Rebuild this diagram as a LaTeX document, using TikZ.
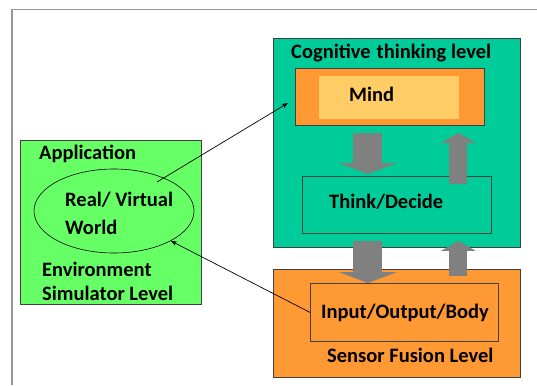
\documentclass[tikz,border=0pt]{standalone}
\usepackage{fontspec}
\setmainfont{Carlito}
\usetikzlibrary{arrows.meta,positioning,shapes.geometric,calc}
\definecolor{cogteal}{RGB}{0,204,153}
\definecolor{boxorange}{RGB}{255,153,51}
\definecolor{mindlight}{RGB}{255,204,102}
\definecolor{appgreen}{RGB}{102,255,102}
\definecolor{framegray}{RGB}{150,150,150}
\definecolor{arrowgray}{RGB}{128,128,128}

\begin{document}
\begin{tikzpicture}[x=1pt,y=-1pt,>=Stealth,
    levelbox/.style={draw=black!75,line width=0.8pt,anchor=north west,inner sep=0pt},
    lbl/.style={anchor=west,inner sep=0pt,font=\bfseries\fontsize{20.5}{24}\selectfont},
    fatdown/.style={arrowgray,line width=29pt,-{Triangle[length=11pt,width=58pt]}},
    fatup/.style={arrowgray,line width=18pt,-{Triangle[length=10pt,width=34pt]}}]
  \useasboundingbox (0,0) rectangle (537,385);
  \draw[framegray,line width=1.5pt] (12,385) -- (12,9.5) -- (537,9.5);

  % levels
  \node[levelbox,fill=cogteal,minimum width=247pt,minimum height=209pt]
        (cog) at (273,38) {};
  \node[levelbox,fill=boxorange,minimum width=247pt,minimum height=108pt]
        (sensor) at (273,269) {};
  \node[levelbox,fill=appgreen,minimum width=181pt,minimum height=164pt]
        (app) at (19.5,140) {};

  % inner boxes
  \node[levelbox,fill=boxorange,minimum width=189pt,minimum height=57pt]
        (mind) at (295,68) {};
  \node[anchor=north west,inner sep=0pt,fill=mindlight,
        minimum width=140pt,minimum height=43pt] (mindin) at (319,76) {};
  \node[levelbox,fill=cogteal,minimum width=189pt,minimum height=57pt]
        (think) at (302,176) {};
  \node[levelbox,fill=boxorange,minimum width=188pt,minimum height=58pt]
        (iob) at (310,283) {};
  \node[draw,ellipse,line width=0.6pt,inner sep=0pt,
        minimum width=160pt,minimum height=84pt] (world) at (114,211) {};

  % texts
  \node[lbl] (cogtxt) at (291,53) {Cognitive\hspace{6pt}thinking level};
  \node[lbl] (mindtxt) at (349,94) {Mind};
  \node[lbl] (thinktxt) at (329,202) {Think/Decide};
  \node[lbl] (iobtxt) at (321,313) {Input/Output/Body};
  \node[lbl] (sensortxt) at (327,355) {Sensor Fusion Level};
  \node[lbl] (apptxt) at (39,154) {Application};
  \node[lbl,align=left] (worldtxt) at (65,213) {Real/ Virtual\\[4pt]World};
  \node[lbl,align=left] (envtxt) at (42,281) {Environment\\Simulator Level};

  % block arrows
  \draw[fatdown] ([xshift=-22pt,yshift=-7pt]mind.south) -- ([xshift=-29pt,yshift=2pt]think.north);
  \draw[fatup] ([xshift=61.5pt,yshift=-8pt]think.north) -- ([xshift=68.5pt,yshift=-7pt]mind.south);
  \draw[fatdown] ([xshift=-29pt,yshift=-7pt]think.south) -- ([xshift=-36.5pt]iob.north);
  \draw[fatup] ([xshift=61.5pt,yshift=-7pt]sensor.north) -- ([xshift=61.5pt,yshift=-7pt]think.south);

  % links to the world
  \coordinate (wout) at (157,182);
  \coordinate (mindtip) at (288,103);
  \draw[->,line width=0.7pt] (wout) -- (mindtip);
  \draw[->,line width=0.7pt] (iob.west) -- (world.south east);
\end{tikzpicture}
\end{document}
